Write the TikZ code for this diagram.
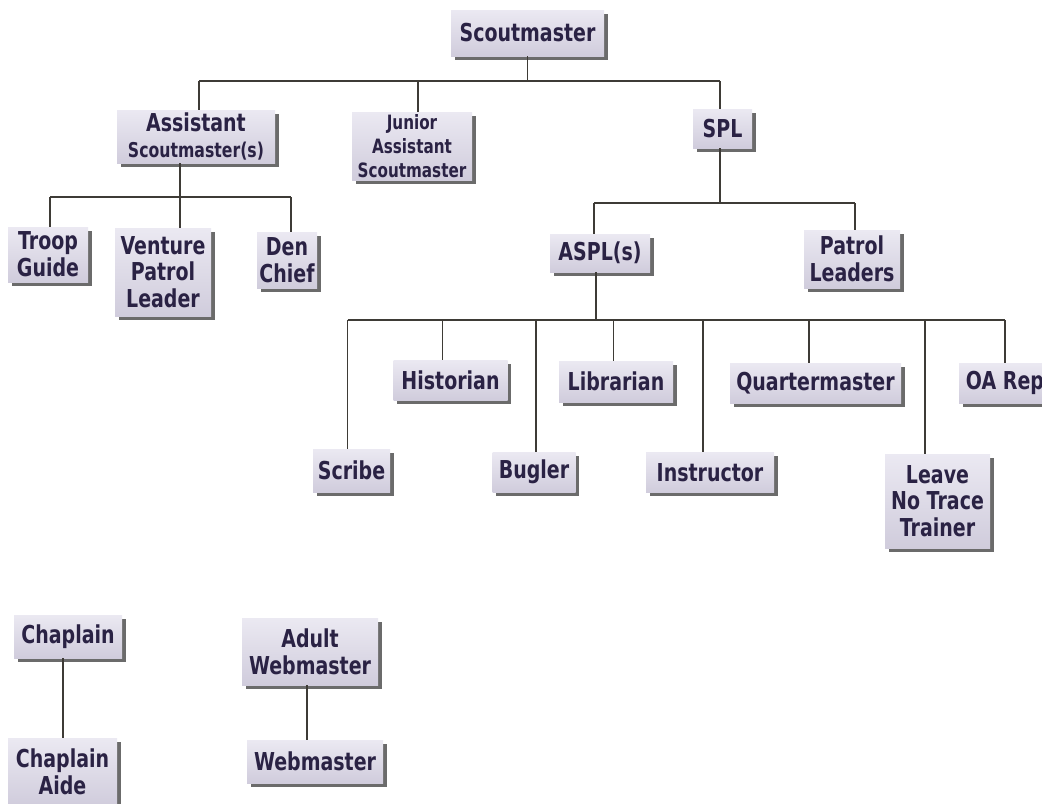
\documentclass[tikz,border=0pt]{standalone}
\usepackage{fontspec}
\setmainfont{DejaVu Sans}[FakeStretch=0.77]
\usetikzlibrary{shadows}
\definecolor{boxtop}{HTML}{EBE9F2}
\definecolor{boxbot}{HTML}{D0CCDC}
\definecolor{ink}{HTML}{2A2244}
\definecolor{wire}{HTML}{3E3B36}
\tikzset{
  orgbox/.style={rectangle, top color=boxtop, bottom color=boxbot, draw=none,
    text=ink, font=\fontsize{18.5}{20}\selectfont\bfseries, align=center, inner sep=0pt,
    drop shadow={shadow xshift=2.8pt, shadow yshift=-2.8pt, fill=black!72, opacity=0.8}},
  sz/.style 2 args={minimum width=#1*0.75pt, minimum height=#2*0.75pt},
  wirel/.style={draw=wire, line width=1.4pt},
}
\begin{document}
\begin{tikzpicture}[x=0.75pt,y=-0.75pt]
\useasboundingbox (0,0) rectangle (1042,803);
\clip (0,0) rectangle (1042,803);
\fill[white] (0,0) rectangle (1042,803);

% nodes
\node[orgbox, sz={153}{46}] (scout) at (527.5,33) {Scoutmaster};
\node[orgbox, sz={158}{53}] (asm) at (196,136.5) {Assistant\\{\fontsize{15.3}{16}\selectfont Scoutmaster(s)}};
\node[orgbox, sz={120}{68}, font=\fontsize{14.8}{18}\selectfont\bfseries] (jasm) at (412,146) {Junior\\Assistant\\Scoutmaster};
\node[orgbox, sz={59}{39}] (spl) at (722.5,128.5) {SPL};
\node[orgbox, sz={80}{55}] (troop) at (48,254.5) {Troop\\Guide};
\node[orgbox, sz={96}{88}] (venture) at (163,272) {Venture\\Patrol\\Leader};
\node[orgbox, sz={60}{56}] (den) at (287,260) {Den\\Chief};
\node[orgbox, sz={100}{38}] (aspl) at (600,253) {ASPL(s)};
\node[orgbox, sz={96}{58}] (patrol) at (852,259) {Patrol\\Leaders};
\node[orgbox, sz={114}{40}] (historian) at (450.5,380) {Historian};
\node[orgbox, sz={114}{41}] (librarian) at (616,381.5) {Librarian};
\node[orgbox, sz={171}{40}] (quarter) at (815.5,383) {Quartermaster};
\node[orgbox, sz={92}{40}] (oarep) at (1005,383) {OA Rep};
\node[orgbox, sz={77}{43}] (scribe) at (351.5,470.5) {Scribe};
\node[orgbox, sz={83}{40}] (bugler) at (534,472) {Bugler};
\node[orgbox, sz={128}{40}] (instructor) at (710,472.5) {Instructor};
\node[orgbox, sz={105}{94}] (leave) at (937.5,501) {Leave\\No Trace\\Trainer};
\node[orgbox, sz={108}{43}] (chaplain) at (68,636.5) {Chaplain};
\node[orgbox, sz={109}{68}] (aide) at (62.5,772) {Chaplain\\Aide};
\node[orgbox, sz={136}{67}] (adultweb) at (310,651.5) {Adult\\Webmaster};
\node[orgbox, sz={136}{43}] (web) at (315,761.5) {Webmaster};

% top level
\coordinate (t1) at (199,81);
\coordinate (t2) at (720,81);
\coordinate (t3) at (418,81);
\draw[wirel] (t1) -- (t2);
\draw[wirel] (scout.south) -- (scout.south |- t1);
\draw[wirel] (t1) -- (t1 |- asm.north);
\draw[wirel] (t3) -- (t3 |- jasm.north);
\draw[wirel] (t2) -- (t2 |- spl.north);

% assistant scoutmaster
\coordinate (a0) at (180,197);
\coordinate (a1) at (50,197);
\coordinate (a2) at (291,197);
\draw[wirel] (a0 |- asm.south) -- (a0);
\draw[wirel] (a1) -- (a2);
\draw[wirel] (a1) -- (a1 |- troop.north);
\draw[wirel] (a0) -- (a0 |- venture.north);
\draw[wirel] (a2) -- (a2 |- den.north);

% SPL
\coordinate (s0) at (720,203);
\coordinate (s1) at (594,203);
\coordinate (s2) at (855,203);
\draw[wirel] (s0 |- spl.south) -- (s0);
\draw[wirel] (s1) -- (s2);
\draw[wirel] (s1) -- (s1 |- aspl.north);
\draw[wirel] (s2) -- (s2 |- patrol.north);

% ASPL
\coordinate (p0) at (596,320);
\coordinate (pS) at (347.5,320);
\coordinate (pH) at (442.5,320);
\coordinate (pB) at (536,320);
\coordinate (pL) at (613.5,320);
\coordinate (pI) at (703,320);
\coordinate (pQ) at (809,320);
\coordinate (pN) at (925,320);
\coordinate (pO) at (1005,320);
\draw[wirel] (p0 |- aspl.south) -- (p0);
\draw[wirel] (pS) -- (pO);
\draw[wirel] (pS) -- (pS |- scribe.north);
\draw[wirel] (pH) -- (pH |- historian.north);
\draw[wirel] (pB) -- (pB |- bugler.north);
\draw[wirel] (pL) -- (pL |- librarian.north);
\draw[wirel] (pI) -- (pI |- instructor.north);
\draw[wirel] (pQ) -- (pQ |- quarter.north);
\draw[wirel] (pN) -- (pN |- leave.north);
\draw[wirel] (pO) -- (pO |- oarep.north);

% bottom groups
\coordinate (c0) at (63,700);
\draw[wirel] (c0 |- chaplain.south) -- (c0 |- aide.north);
\coordinate (w0) at (307,700);
\draw[wirel] (w0 |- adultweb.south) -- (w0 |- web.north);
\end{tikzpicture}
\end{document}
